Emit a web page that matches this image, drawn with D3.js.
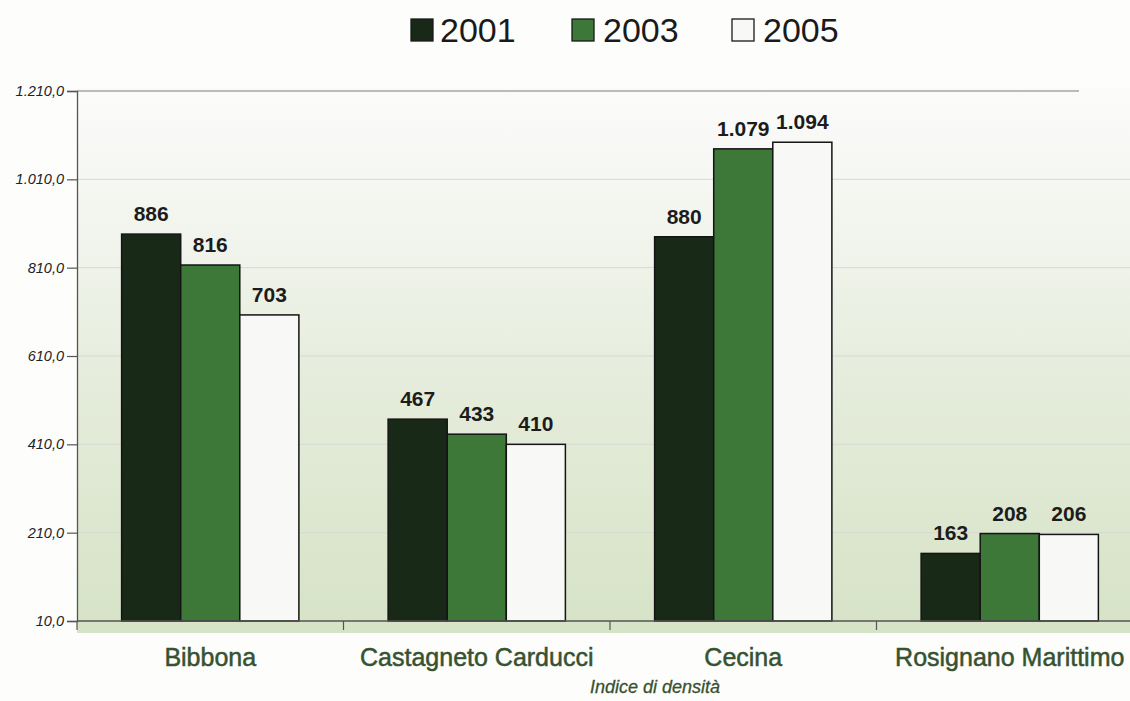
<!DOCTYPE html>
<html>
<head>
<meta charset="utf-8">
<script src="https://cdn.jsdelivr.net/npm/d3@7"></script>
<style>
  html, body { margin: 0; padding: 0; background: #fdfdfc; }
  svg { display: block; font-family: "Liberation Sans", Arial, Helvetica, sans-serif; }
</style>
</head>
<body>
<svg id="chart" width="1130" height="701"></svg>
<script>
// Density index by municipality and year
const categories = ["Bibbona", "Castagneto Carducci", "Cecina", "Rosignano Marittimo"];
const years = ["2001", "2003", "2005"];
const values2001 = [886, 467, 880, 163];
const values2003 = [816, 433, 1079, 208];
const values2005 = [703, 410, 1094, 206];
const yTicks = [10, 210, 410, 610, 810, 1010, 1210];
const axisTitle = "Indice di densità";

const seriesValues = { "2001": values2001, "2003": values2003, "2005": values2005 };
const colors = { "2001": "#182a17", "2003": "#3e7838", "2005": "#f8f8f6" };

const it = d3.formatLocale({ decimal: ",", thousands: ".", grouping: [3], currency: ["€", ""] });
const fmtTick = it.format(",.1f");
const fmtVal = it.format(",d");

const svg = d3.select("#chart");
const W = 1130;
const plotLeft = 77, plotRight = 1143, plotTop = 91, plotBottom = 621;

const x0 = d3.scaleBand().domain(categories).range([plotLeft, plotRight]).paddingInner(0).paddingOuter(0);
const x1 = d3.scaleBand().domain(years).range([0, x0.bandwidth()]).paddingInner(0).paddingOuter(0.755);
const y = d3.scaleLinear().domain([10, 1210]).range([plotBottom, plotTop]);

// plot background: soft green fading to white towards the top
const defs = svg.append("defs");
const grad = defs.append("linearGradient").attr("id", "bg").attr("x1", 0).attr("y1", 0).attr("x2", 0).attr("y2", 1);
grad.append("stop").attr("offset", "0%").attr("stop-color", "#fbfbfa");
grad.append("stop").attr("offset", "18%").attr("stop-color", "#f5f7f2");
grad.append("stop").attr("offset", "55%").attr("stop-color", "#e5ecdb");
grad.append("stop").attr("offset", "100%").attr("stop-color", "#d6e3c6");
svg.append("rect").attr("x", plotLeft).attr("y", plotTop - 3).attr("width", W - plotLeft).attr("height", plotBottom - plotTop + 15)
  .attr("fill", "url(#bg)");

// horizontal gridlines
svg.append("g").selectAll("line").data(yTicks.slice(1, -1)).join("line")
  .attr("x1", plotLeft).attr("x2", W)
  .attr("y1", d => y(d)).attr("y2", d => y(d))
  .attr("stroke", "#d6d9d1").attr("stroke-width", 1);
svg.append("line").attr("x1", plotLeft).attr("x2", 1079).attr("y1", y(1210)).attr("y2", y(1210))
  .attr("stroke", "#7a7a7a").attr("stroke-width", 1.2);

// bars
const groups = svg.append("g").selectAll("g").data(categories).join("g")
  .attr("transform", d => `translate(${x0(d)},0)`);
groups.selectAll("rect").data((c, i) => years.map(yr => ({ yr, v: seriesValues[yr][i] }))).join("rect")
  .attr("x", d => x1(d.yr)).attr("width", x1.bandwidth())
  .attr("y", d => y(d.v)).attr("height", d => y(10) - y(d.v))
  .attr("fill", d => colors[d.yr]).attr("stroke", "#141414").attr("stroke-width", 1.5);

// value labels
groups.selectAll("text").data((c, i) => years.map(yr => ({ yr, v: seriesValues[yr][i] }))).join("text")
  .attr("x", d => x1(d.yr) + x1.bandwidth() / 2).attr("y", d => y(d.v) - 13)
  .attr("text-anchor", "middle").attr("font-size", 21).attr("font-weight", "bold").attr("fill", "#1c1c1c")
  .text(d => fmtVal(d.v));

// y axis
const yAxis = svg.append("g").attr("transform", `translate(${plotLeft},0)`)
  .call(d3.axisLeft(y).tickValues(yTicks).tickFormat(fmtTick).tickSize(10).tickPadding(3));
yAxis.select(".domain").attr("stroke", "#555").attr("stroke-width", 1.3);
yAxis.selectAll(".tick line").attr("stroke", "#555").attr("stroke-width", 1.2);
yAxis.selectAll(".tick text").attr("font-size", 14.5).attr("font-style", "italic").attr("fill", "#222")
  .attr("font-family", "\"Liberation Sans\", Arial, sans-serif");

// x axis
svg.append("line").attr("x1", plotLeft).attr("x2", W).attr("y1", plotBottom).attr("y2", plotBottom)
  .attr("stroke", "#555").attr("stroke-width", 1.3);
svg.append("g").selectAll("line").data(categories).join("line")
  .attr("x1", d => x0(d)).attr("x2", d => x0(d)).attr("y1", plotBottom).attr("y2", plotBottom + 9)
  .attr("stroke", "#555").attr("stroke-width", 1.2);

// category labels, kept inside the page on the right
svg.append("g").selectAll("text").data(categories).join("text")
  .attr("x", d => x0(d) + x0.bandwidth() / 2).attr("y", 666)
  .attr("text-anchor", "middle").attr("font-size", 25).attr("fill", "#365230")
  .attr("stroke", "#365230").attr("stroke-width", 0.5)
  .text(d => d)
  .each(function () {
    const w = this.getComputedTextLength();
    const cx = +this.getAttribute("x");
    if (cx + w / 2 > W - 3) this.setAttribute("x", W - 3 - w / 2);
  });

svg.append("text").attr("x", 655).attr("y", 693).attr("text-anchor", "middle")
  .attr("font-size", 18).attr("font-style", "italic").attr("fill", "#365230")
  .attr("stroke", "#365230").attr("stroke-width", 0.3).text(axisTitle);

// legend
const legendPos = [{ sx: 411, tx: 440 }, { sx: 572, tx: 603 }, { sx: 732, tx: 763 }];
const legend = svg.append("g").selectAll("g").data(years).join("g");
legend.append("rect")
  .attr("x", (d, i) => legendPos[i].sx).attr("y", 19).attr("width", 22).attr("height", 22)
  .attr("fill", d => colors[d]).attr("stroke", "#1a1a1a").attr("stroke-width", 1.3);
legend.append("text")
  .attr("x", (d, i) => legendPos[i].tx).attr("y", 42)
  .attr("font-size", 34).attr("fill", "#1a1a1a").text(d => d);
</script>
</body>
</html>
